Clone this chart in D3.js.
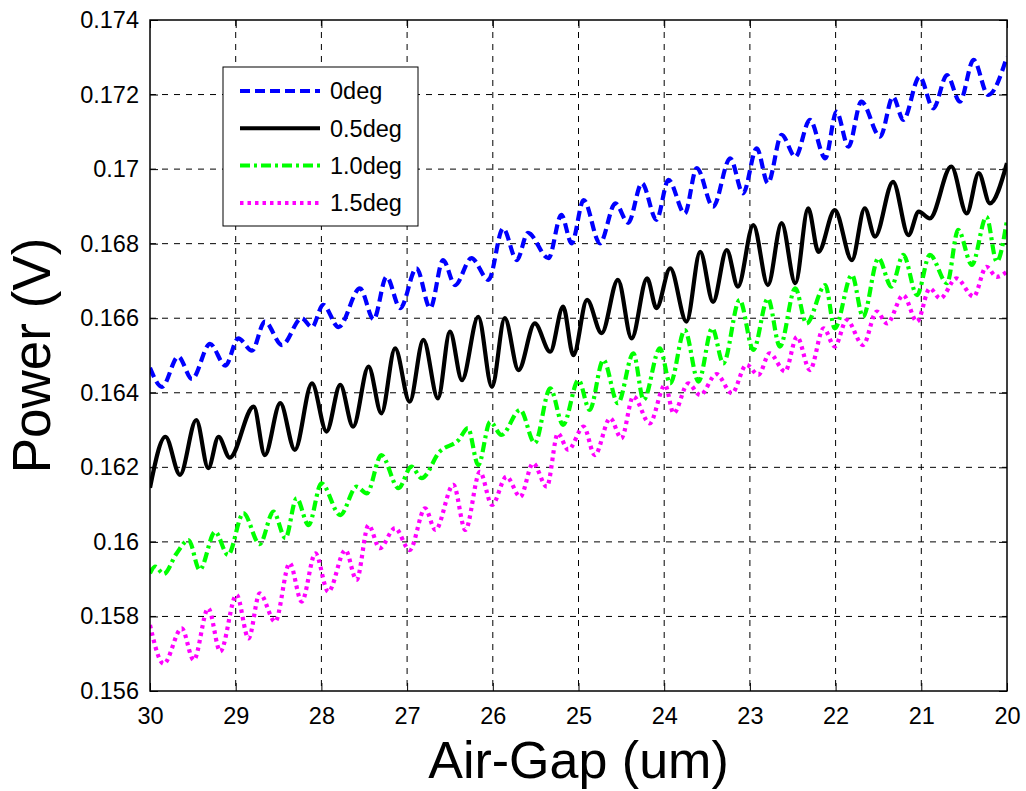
<!DOCTYPE html>
<meta charset="utf-8">
<style>
body { margin: 0; background: #fff; }
text { font-family: Arial, "Liberation Sans", sans-serif; fill: #000; }
.grid line { stroke: #000; stroke-width: 1; stroke-dasharray: 6,6; }
.tick line { stroke: #000; }
</style>
<body>
<div id="chart"></div>
<script src="https://d3js.org/d3.v7.min.js"></script>
<script>
// 0deg (blue dashed)
var gap0 = [30.00,29.86,29.67,29.51,29.30,29.12,28.97,28.81,28.66,28.46,28.23,28.11,27.98,27.80,27.55,27.39,27.24,27.08,26.89,26.73,26.58,26.44,26.25,26.05,25.88,25.72,25.59,25.35,25.20,25.08,24.94,24.75,24.57,24.42,24.26,24.09,23.95,23.76,23.62,23.43,23.23,23.08,22.92,22.79,22.63,22.47,22.30,22.12,21.99,21.85,21.70,21.48,21.33,21.21,21.02,20.86,20.70,20.55,20.39,20.22,20.00];
var pow0 = [0.16467,0.16416,0.16497,0.16437,0.16531,0.16473,0.16546,0.16513,0.16591,0.16528,0.16600,0.16576,0.16636,0.16576,0.16680,0.16597,0.16711,0.16627,0.16734,0.16627,0.16756,0.16689,0.16761,0.16703,0.16841,0.16756,0.16829,0.16761,0.16877,0.16801,0.16917,0.16801,0.16908,0.16856,0.16962,0.16864,0.16971,0.16881,0.17003,0.16899,0.17029,0.16935,0.17056,0.16962,0.17092,0.17033,0.17132,0.17029,0.17154,0.17060,0.17181,0.17087,0.17194,0.17132,0.17248,0.17163,0.17252,0.17181,0.17293,0.17199,0.17302];

// 0.5deg (black solid)
var gap1 = [30.00,29.82,29.65,29.46,29.32,29.20,29.07,28.79,28.66,28.48,28.31,28.11,27.94,27.78,27.63,27.45,27.30,27.14,26.97,26.81,26.64,26.50,26.36,26.17,26.01,25.86,25.70,25.51,25.33,25.18,25.06,24.90,24.73,24.54,24.38,24.20,24.09,23.93,23.74,23.58,23.43,23.27,23.14,22.96,22.79,22.63,22.47,22.32,22.20,22.01,21.81,21.66,21.54,21.33,21.15,21.03,20.90,20.65,20.47,20.33,20.20,20.00];
var pow1 = [0.16145,0.16282,0.16180,0.16327,0.16198,0.16282,0.16226,0.16363,0.16233,0.16372,0.16247,0.16425,0.16296,0.16421,0.16309,0.16470,0.16345,0.16519,0.16376,0.16542,0.16385,0.16564,0.16434,0.16604,0.16416,0.16600,0.16461,0.16586,0.16510,0.16631,0.16501,0.16649,0.16560,0.16703,0.16546,0.16707,0.16627,0.16734,0.16591,0.16778,0.16644,0.16783,0.16685,0.16850,0.16689,0.16855,0.16694,0.16895,0.16778,0.16890,0.16756,0.16895,0.16819,0.16966,0.16823,0.16886,0.16868,0.17007,0.16881,0.16989,0.16908,0.17016];

// 1.0deg (green dash-dot)
var gap2 = [30.00,29.94,29.84,29.69,29.55,29.42,29.24,29.09,28.91,28.72,28.56,28.42,28.29,28.15,28.00,27.78,27.59,27.47,27.30,27.10,26.95,26.83,26.62,26.40,26.29,26.17,26.03,25.90,25.68,25.51,25.33,25.18,25.00,24.87,24.71,24.54,24.36,24.24,24.05,23.93,23.76,23.60,23.44,23.31,23.12,22.96,22.79,22.65,22.47,22.34,22.12,22.01,21.81,21.68,21.50,21.35,21.21,21.05,20.90,20.70,20.57,20.41,20.24,20.12,20.00];
var pow2 = [0.15916,0.15934,0.15914,0.15969,0.16005,0.15925,0.16027,0.15965,0.16077,0.15994,0.16081,0.16010,0.16117,0.16045,0.16157,0.16072,0.16148,0.16130,0.16233,0.16144,0.16202,0.16171,0.16242,0.16273,0.16305,0.16206,0.16322,0.16287,0.16354,0.16265,0.16412,0.16314,0.16434,0.16354,0.16488,0.16372,0.16506,0.16381,0.16519,0.16425,0.16568,0.16430,0.16573,0.16479,0.16649,0.16515,0.16653,0.16524,0.16680,0.16586,0.16689,0.16573,0.16716,0.16604,0.16761,0.16685,0.16770,0.16662,0.16770,0.16694,0.16837,0.16743,0.16872,0.16752,0.16864];

// 1.5deg (magenta dotted)
var gap3 = [30.00,29.84,29.63,29.49,29.32,29.18,28.99,28.85,28.72,28.54,28.37,28.23,28.07,27.92,27.72,27.59,27.45,27.32,27.14,26.97,26.79,26.67,26.46,26.32,26.15,26.01,25.84,25.68,25.53,25.37,25.24,25.12,24.94,24.81,24.63,24.50,24.36,24.17,23.99,23.89,23.72,23.58,23.39,23.21,23.04,22.90,22.77,22.59,22.45,22.30,22.14,22.01,21.87,21.68,21.52,21.40,21.21,21.05,20.90,20.78,20.59,20.39,20.24,20.12,20.00];
var pow3 = [0.15777,0.15673,0.15768,0.15683,0.15822,0.15706,0.15858,0.15741,0.15862,0.15786,0.15943,0.15840,0.15969,0.15866,0.15978,0.15898,0.16045,0.15983,0.16037,0.15978,0.16090,0.16032,0.16153,0.16032,0.16188,0.16099,0.16175,0.16121,0.16211,0.16148,0.16291,0.16247,0.16309,0.16233,0.16332,0.16278,0.16390,0.16318,0.16421,0.16345,0.16425,0.16394,0.16450,0.16399,0.16475,0.16448,0.16506,0.16457,0.16550,0.16461,0.16573,0.16524,0.16595,0.16528,0.16618,0.16586,0.16662,0.16591,0.16680,0.16653,0.16707,0.16658,0.16738,0.16711,0.16725];

var seriesNames = ["0deg", "0.5deg", "1.0deg", "1.5deg"];
var xTicks = [30, 29, 28, 27, 26, 25, 24, 23, 22, 21, 20];
var yTicks = [0.156, 0.158, 0.16, 0.162, 0.164, 0.166, 0.168, 0.17, 0.172, 0.174];

var width = 1026, height = 791;
var margin = {top: 20, right: 19, bottom: 100, left: 150};
var w = width - margin.left - margin.right,
	h = height - margin.top - margin.bottom;

var styles = [
	{color: "#0000ff", dash: "10,5"},
	{color: "#000000", dash: null},
	{color: "#00ff00", dash: "10,4,3,4"},
	{color: "#ff00ff", dash: "3.5,4"}
];

var series = [[gap0, pow0], [gap1, pow1], [gap2, pow2], [gap3, pow3]].map(function(s, i) {
	return {
		name: seriesNames[i],
		style: styles[i],
		values: s[0].map(function(g, j) { return {x: g, y: s[1][j]}; })
	};
});

var x = d3.scaleLinear().domain([30, 20]).range([0, w]);
var y = d3.scaleLinear().domain([0.156, 0.174]).range([h, 0]);

var svg = d3.select("#chart").append("svg")
	.attr("width", width)
	.attr("height", height)
	.append("g")
	.attr("transform", "translate(" + margin.left + "," + margin.top + ")");

// grid
svg.append("g").attr("class", "grid")
	.selectAll("line").data(xTicks.slice(1, -1)).enter().append("line")
	.attr("x1", function(d) { return x(d); }).attr("x2", function(d) { return x(d); })
	.attr("y1", 0).attr("y2", h);
svg.append("g").attr("class", "grid")
	.selectAll("line").data(yTicks.slice(1, -1)).enter().append("line")
	.attr("y1", function(d) { return y(d); }).attr("y2", function(d) { return y(d); })
	.attr("x1", 0).attr("x2", w);

// axes, matlab style ticks inside on all four sides
var fmtY = function(d) { return String(+d.toFixed(3)); };
function styleAxis(g) {
	g.select(".domain").remove();
	g.selectAll("text").style("font-size", "23.5px");
}
svg.append("g").attr("transform", "translate(0," + h + ")")
	.call(d3.axisBottom(x).tickValues(xTicks).tickSize(-8).tickPadding(16).tickFormat(d3.format("d")))
	.call(styleAxis);
svg.append("g")
	.call(d3.axisTop(x).tickValues(xTicks).tickSize(-8).tickFormat(""))
	.call(styleAxis);
svg.append("g")
	.call(d3.axisLeft(y).tickValues(yTicks).tickSize(-8).tickPadding(11).tickFormat(fmtY))
	.call(styleAxis);
svg.append("g").attr("transform", "translate(" + w + ",0)")
	.call(d3.axisRight(y).tickValues(yTicks).tickSize(-8).tickFormat(""))
	.call(styleAxis);

var line = d3.line()
	.x(function(d) { return x(d.x); })
	.y(function(d) { return y(d.y); })
	.curve(d3.curveMonotoneX);

svg.append("defs").append("clipPath").attr("id", "clip")
	.append("rect").attr("width", w).attr("height", h);

svg.append("g").attr("clip-path", "url(#clip)")
	.selectAll("path").data(series).enter().append("path")
	.attr("d", function(d) { return line(d.values); })
	.attr("fill", "none")
	.attr("stroke", function(d) { return d.style.color; })
	.attr("stroke-width", 4.2)
	.attr("stroke-dasharray", function(d) { return d.style.dash; });

// frame
svg.append("rect")
	.attr("width", w).attr("height", h)
	.attr("fill", "none").attr("stroke", "#000").attr("stroke-width", 1.5);

// labels
svg.append("text")
	.attr("x", w / 2).attr("y", h + 87)
	.attr("text-anchor", "middle")
	.style("font-size", "52px")
	.text("Air-Gap (um)");
svg.append("text")
	.attr("transform", "translate(-100," + (h / 2) + ") rotate(-90)")
	.attr("text-anchor", "middle")
	.style("font-size", "53px")
	.text("Power (V)");

// legend
var legend = svg.append("g").attr("transform", "translate(73,47)");
legend.append("rect")
	.attr("width", 195).attr("height", 159)
	.attr("fill", "#fff").attr("stroke", "#000").attr("stroke-width", 1);
var item = legend.selectAll(".item").data(series).enter().append("g")
	.attr("transform", function(d, i) { return "translate(0," + (24 + i * 37.3) + ")"; });
item.append("line")
	.attr("x1", 17).attr("x2", 97)
	.attr("stroke", function(d) { return d.style.color; })
	.attr("stroke-width", 4)
	.attr("stroke-dasharray", function(d) { return d.style.dash; });
item.append("text")
	.attr("x", 107).attr("dy", "0.35em")
	.style("font-size", "23.5px")
	.text(function(d) { return d.name; });
</script>
</body>
